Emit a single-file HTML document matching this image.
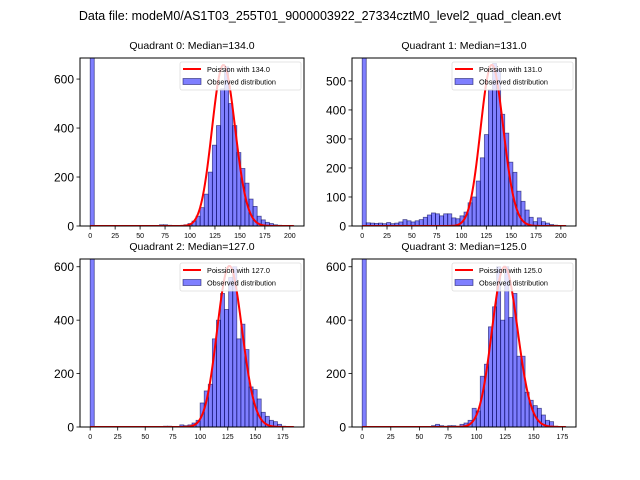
<!DOCTYPE html>
<html><head><meta charset="utf-8"><style>
body{margin:0;background:#fff;font-family:"Liberation Sans","DejaVu Sans",sans-serif}
svg{display:block}
</style></head><body>
<svg id="c" width="640" height="480" viewBox="0 0 640 480">
<text x="320" y="20" font-size="12.5" text-anchor="middle" fill="#000">Data file: modeM0/AS1T03_255T01_9000003922_27334cztM0_level2_quad_clean.evt</text>
</svg>
<script>
const titles=["Quadrant 0: Median=134.0","Quadrant 1: Median=131.0","Quadrant 2: Median=127.0","Quadrant 3: Median=125.0"];
const lambdas=[134,131,127,125];
const peakAmps=[657,555,603,600];
const binWidths=[4.08,4.1,3.7,3.56];
const yTicks0=[0,200,400,600];
const yTicks1=[0,100,200,300,400,500];
const yTicks2=[0,200,400,600];
const yTicks3=[0,200,400,600];
const xTicks01=[0,25,50,75,100,125,150,175,200];
const xTicks23=[0,25,50,75,100,125,150,175];
const counts0=[3000,0,0,0,0,0,0,0,0,0,0,0,0,0,0,0,0,5,5,3,2,0,0,5,10,20,40,75,130,220,330,410,560,650,500,410,300,235,175,110,80,40,25,15,10,5,3,1,0,1];
const counts1=[3000,11,10,9,10,8,12,8,10,14,22,18,14,18,22,30,38,45,42,35,42,42,28,25,35,48,80,100,155,235,315,470,560,540,385,320,220,185,120,85,55,30,15,28,15,10,5,3,1,2];
const counts2=[3000,0,0,0,0,0,0,0,0,0,0,0,0,0,0,0,0,0,3,3,0,0,8,5,8,15,25,90,135,160,330,400,500,440,560,600,330,385,290,150,140,105,55,40,25,20,10,3,1,1];
const counts3=[3000,0,0,0,0,0,0,0,0,0,0,0,0,0,0,0,0,5,10,5,3,5,5,3,10,15,25,70,60,190,235,375,450,600,400,600,410,500,265,265,130,100,80,70,45,25,20,3,1,1];

const NS="http://www.w3.org/2000/svg";
const svg=document.getElementById('c');
function mk(tag,attrs,parent){const e=document.createElementNS(NS,tag);for(const k in attrs)e.setAttribute(k,attrs[k]);(parent||svg).appendChild(e);return e;}
function lgam(x){const c=[76.18009172947146,-86.50532032941677,24.01409824083091,-1.231739572450155,0.1208650973866179e-2,-0.5395239384953e-5];let y=x,t=x+5.5;t-=(x+0.5)*Math.log(t);let s=1.000000000190015;for(let j=0;j<6;j++)s+=c[j]/++y;return -t+Math.log(2.5066282746310005*s/x);}
function pois(k,l){return Math.exp(k*Math.log(l)-l-lgam(k+1));}

const panels=[
 {L:80,R:304,T:58,B:226,ymax:686,counts:counts0,yt:yTicks0,xt:xTicks01},
 {L:352,R:576,T:58,B:226,ymax:579,counts:counts1,yt:yTicks1,xt:xTicks01},
 {L:80,R:304,T:259,B:427,ymax:629,counts:counts2,yt:yTicks2,xt:xTicks23},
 {L:352,R:576,T:259,B:427,ymax:629,counts:counts3,yt:yTicks3,xt:xTicks23}];

panels.forEach((p,q)=>{
 const w=binWidths[q],xmaxData=w*p.counts.length;
 const x0=-0.05*xmaxData,x1=xmaxData*1.05;
 const sx=v=>p.L+(v-x0)/(x1-x0)*(p.R-p.L);
 const sy=v=>p.B-v/p.ymax*(p.B-p.T);
 const g=mk('g',{});
 
 
 const cid='clip'+q;
 const cp=mk('clipPath',{id:cid},g);mk('rect',{x:p.L,y:p.T,width:p.R-p.L,height:p.B-p.T},cp);
 const t=mk('text',{x:(p.L+p.R)/2,y:p.T-9,'font-size':10.5,'text-anchor':'middle'},g);t.textContent=titles[q];
 
 
 const bars=mk('g',{'clip-path':'url(#'+cid+')'},g);
 p.counts.forEach((c,i)=>{
  if(c<=0)return;
  const a=sx(i*w),b=sx((i+1)*w);
  const r=mk('rect',{x:a,y:sy(c),width:b-a,height:sy(0)-sy(c),fill:'rgba(0,0,255,0.5)',stroke:'rgba(0,0,80,0.6)','stroke-width':0.8},bars);
  
  
 });
 const lam=lambdas[q],scale=peakAmps[q]/pois(Math.floor(lam),lam);
 let d='';
 for(let k=0;k<=Math.round(xmaxData);k++){d+=(k?'L':'M')+sx(k).toFixed(2)+','+sy(pois(k,lam)*scale).toFixed(2);}
 const pl=mk('path',{d:d,fill:'none',stroke:'red','stroke-width':2,'clip-path':'url(#'+cid+')'},g);
 
 
 mk('rect',{x:p.L,y:p.T,width:p.R-p.L,height:p.B-p.T,fill:'none',stroke:'#000','stroke-width':1},g);
 p.xt.forEach(v=>{const X=sx(v);mk('line',{x1:X,x2:X,y1:p.B,y2:p.B+3.5,stroke:'#000','stroke-width':0.8},g);
  const tt=mk('text',{x:X,y:p.B+12,'font-size':7,'text-anchor':'middle'},g);tt.textContent=v;
  
  });
 p.yt.forEach(v=>{const Y=sy(v);mk('line',{x1:p.L-3.5,x2:p.L,y1:Y,y2:Y,stroke:'#000','stroke-width':0.8},g);
  const tt=mk('text',{x:p.L-6,y:Y+4.5,'font-size':12,'text-anchor':'end'},g);tt.textContent=v;
  
  });
 const lx=p.R-124,ly=p.T+4;
 const lg=mk('g',{},g);
 
 
 mk('rect',{x:lx,y:ly,width:121,height:28,rx:2,fill:'rgba(255,255,255,0.8)',stroke:'#ddd','stroke-width':0.8},lg);
 mk('line',{x1:lx+3,x2:lx+21,y1:ly+7,y2:ly+7,stroke:'red','stroke-width':2},lg);
 const l1=mk('text',{x:lx+27,y:ly+10,'font-size':7.3},lg);l1.textContent='Poission with '+lam.toFixed(1);
 mk('rect',{x:lx+3,y:ly+16.5,width:18,height:6,fill:'rgba(0,0,255,0.5)',stroke:'rgba(0,0,80,0.6)','stroke-width':0.8},lg);
 const l2=mk('text',{x:lx+27,y:ly+22.5,'font-size':7.3},lg);l2.textContent='Observed distribution';
});
</script>
</body></html>
